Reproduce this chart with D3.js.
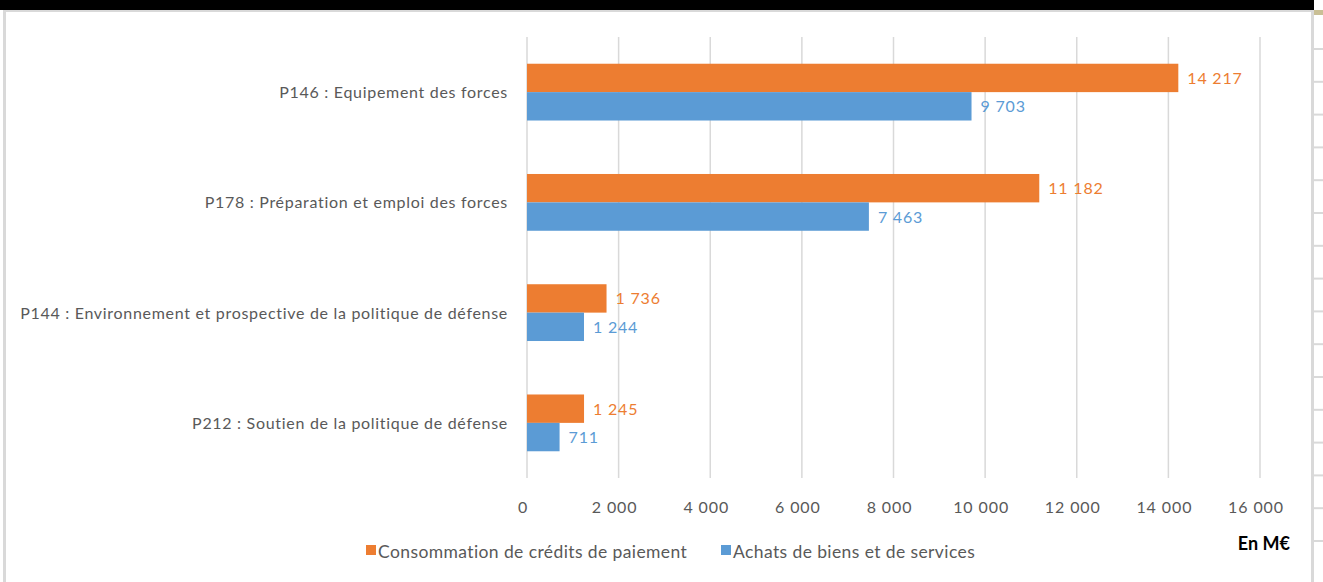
<!DOCTYPE html>
<html>
<head>
<meta charset="utf-8">
<script src="https://cdn.jsdelivr.net/npm/d3@7"></script>
<style>
  body { margin: 0; background: #fff; }
  svg text { font-family: Lato, "Open Sans", sans-serif; }
</style>
</head>
<body>
<div id="chart"></div>
<script>
// chart data
var categories = [
  "P146 : Equipement des forces",
  "P178 : Préparation et emploi des forces",
  "P144 : Environnement et prospective de la politique de défense",
  "P212 : Soutien de la politique de défense"
];
var seriesNames = ["Consommation de crédits de paiement", "Achats de biens et de services"];
var creditsPaiement = [14217, 11182, 1736, 1245];
var achatsBiens = [9703, 7463, 1244, 711];
var xTicks = [0, 2000, 4000, 6000, 8000, 10000, 12000, 14000, 16000];
var colors = ["#ED7D31", "#5B9BD5"];

var width = 1323, height = 582;
var svg = d3.select("#chart").append("svg")
  .attr("width", width)
  .attr("height", height);

// frame around the chart (screenshot of a document)
svg.append("rect").attr("x", 0).attr("y", 0).attr("width", 1314).attr("height", 10).attr("fill", "#000");
svg.append("rect").attr("x", 1314).attr("y", 10).attr("width", 9).attr("height", 5).attr("fill", "#c9bf95");
svg.append("rect").attr("x", 3).attr("y", 10).attr("width", 1311).attr("height", 2).attr("fill", "#d9d9d9");
svg.append("rect").attr("x", 3).attr("y", 10).attr("width", 3).attr("height", 572).attr("fill", "#d9d9d9");
svg.append("rect").attr("x", 1311).attr("y", 12).attr("width", 3).attr("height", 570).attr("fill", "#d9d9d9");
var sideTicks = d3.range(16);
svg.selectAll(".side-tick")
  .data(sideTicks)
  .enter()
  .append("rect")
  .attr("class", "side-tick")
  .attr("x", 1314)
  .attr("y", function (d) { return 48 + d * 32.8; })
  .attr("width", 9)
  .attr("height", 2)
  .attr("fill", "#d9d9d9");

var x = d3.scaleLinear().domain([0, 16000]).range([527, 1260]);
var y = d3.scaleBand().domain(categories).range([37, 478]).paddingInner(0.485).paddingOuter(0.2425);

// gridlines
svg.selectAll(".grid")
  .data(xTicks)
  .enter()
  .append("line")
  .attr("class", "grid")
  .attr("x1", function (d) { return x(d); })
  .attr("x2", function (d) { return x(d); })
  .attr("y1", 37)
  .attr("y2", 478)
  .attr("stroke", "#d9d9d9")
  .attr("stroke-width", 1.5);

// x axis labels
var fmt = function (d) { return d3.format(",")(d).replace(/,/g, " "); };
svg.selectAll(".xlab")
  .data(xTicks)
  .enter()
  .append("text")
  .attr("class", "xlab")
  .attr("x", function (d) { return x(d) - 4; })
  .attr("y", 513)
  .attr("text-anchor", "middle")
  .attr("font-size", 16)
  .attr("letter-spacing", 0.9)
  .attr("fill", "#595959")
  .text(fmt);

// category labels
svg.selectAll(".cat")
  .data(categories)
  .enter()
  .append("text")
  .attr("class", "cat")
  .attr("x", 508)
  .attr("y", function (d) { return y(d) + y.bandwidth() / 2 + 6; })
  .attr("text-anchor", "end")
  .attr("font-size", 16)
  .attr("letter-spacing", 0.7)
  .attr("fill", "#595959")
  .text(function (d) { return d; });

var series = [creditsPaiement, achatsBiens];
var sub = d3.scaleBand().domain([0, 1]).range([0, y.bandwidth()]);

series.forEach(function (vals, si) {
  var rows = categories.map(function (c, i) { return { cat: c, v: vals[i] }; });
  svg.selectAll(".bar" + si)
    .data(rows)
    .enter()
    .append("rect")
    .attr("class", "bar" + si)
    .attr("x", x(0))
    .attr("y", function (d) { return y(d.cat) + sub(si); })
    .attr("width", function (d) { return x(d.v) - x(0); })
    .attr("height", sub.bandwidth())
    .attr("fill", colors[si]);

  svg.selectAll(".val" + si)
    .data(rows)
    .enter()
    .append("text")
    .attr("class", "val" + si)
    .attr("x", function (d) { return x(d.v) + 9; })
    .attr("y", function (d) { return y(d.cat) + sub(si) + sub.bandwidth() / 2 + 6; })
    .attr("font-size", 16)
    .attr("letter-spacing", 0.8)
    .attr("fill", colors[si])
    .text(function (d) { return fmt(d.v); });
});

// legend
var legendX = [366, 721];
seriesNames.forEach(function (name, i) {
  svg.append("rect")
    .attr("x", legendX[i])
    .attr("y", 545)
    .attr("width", 10)
    .attr("height", 10)
    .attr("fill", colors[i]);
  svg.append("text")
    .attr("x", legendX[i] + 12)
    .attr("y", 558)
    .attr("font-size", 17.5)
    .attr("letter-spacing", 0.4)
    .attr("fill", "#595959")
    .text(name);
});

svg.append("text")
  .attr("x", 1290)
  .attr("y", 550)
  .attr("text-anchor", "end")
  .attr("font-size", 18)
  .attr("font-weight", "bold")
  .attr("fill", "#000")
  .text("En M€");
</script>
</body>
</html>
